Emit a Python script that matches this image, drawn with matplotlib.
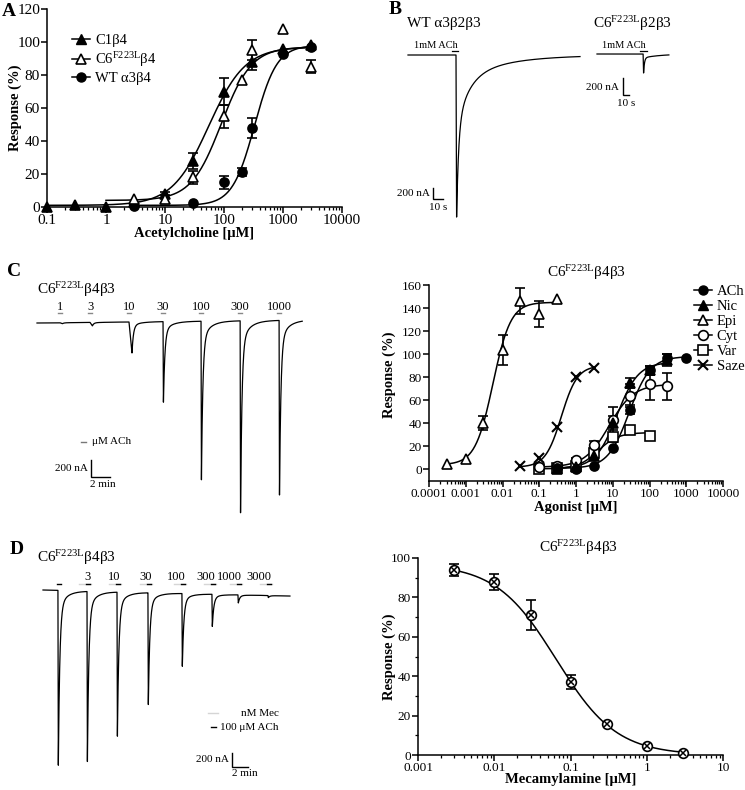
import numpy as np
import matplotlib
matplotlib.use('Agg')
import matplotlib.pyplot as plt
from matplotlib.lines import Line2D
from matplotlib.ticker import LogLocator, NullFormatter, MultipleLocator

# ---------------- data ----------------
# Panel A
concA_c1 = [0.1, 0.3, 1, 3, 10, 30, 100, 300, 1000, 3000]
respA_c1 = [0, 1, 0, 3, 8, 28, 70, 88, 96, 98]
errA_c1 = [0, 0, 0, 0, 1, 5, 8, 5, 0, 0]
concA_c6 = [3, 10, 30, 100, 200, 300, 1000, 3000]
respA_c6 = [5, 5, 18, 55, 77, 95, 108, 85]
errA_c6 = [0, 0, 4, 7, 0, 6, 0, 4]
concA_wt = [3, 30, 100, 200, 300, 1000, 3000]
respA_wt = [0.5, 2.5, 15, 21, 48, 93, 97]
errA_wt = [0, 0, 4, 2.5, 6, 0, 0]
# Hill fit parameters: bottom, top, EC50, nH
fitA_c1 = [1, 97, 55, 1.4]
fitA_c6 = [4, 97, 90, 1.7]
fitA_wt = [1, 98, 330, 2.3]

# Panel C (right)
concC_ach = [0.3, 1, 3, 10, 30, 100, 300, 1000]
respC_ach = [1, 0.5, 3, 19, 52, 86, 97, 97]
errC_ach = [0, 0, 0, 0, 4, 4, 3, 0]
concC_nic = [0.3, 1, 3, 10, 30, 100, 300]
respC_nic = [0.5, 2, 12, 40, 75, 86, 95]
errC_nic = [0, 0, 3, 6, 4, 4, 5]
concC_epi = [0.0003, 0.001, 0.003, 0.01, 0.03, 0.1, 0.3]
respC_epi = [5, 9, 40, 104, 146, 135, 148]
errC_epi = [0, 0, 6, 13, 11, 11, 0]
concC_cyt = [0.1, 0.3, 1, 3, 10, 30, 100, 300]
respC_cyt = [2, 3, 8, 21, 43, 64, 74, 72]
errC_cyt = [0, 0, 2, 4, 11, 10, 14, 12]
concC_var = [0.1, 0.3, 1, 3, 10, 30, 100]
respC_var = [0, 1, 3, 14, 28, 34, 29]
errC_var = [0, 0, 0, 2, 4, 0, 0]
concC_saze = [0.03, 0.1, 0.3, 1, 3]
respC_saze = [3, 10, 37, 80, 88]
fitC_ach = [1, 98, 28, 1.5]
fitC_nic = [1, 93, 13, 1.5]
fitC_epi = [4, 145, 0.0055, 1.8]
fitC_cyt = [2, 74, 8, 1.3]
fitC_var = [0.5, 32, 4, 1.6]
fitC_saze = [2, 90, 0.4, 2.0]

# Panel D (right)
concD = [0.003, 0.01, 0.03, 0.1, 0.3, 1, 3]
respD = [94, 88, 71, 37, 15.5, 4.5, 1]
errD = [3, 4, 7.5, 3.5, 0, 0, 0]
fitD = [97, 0, 0.065, 1.1]

# Traces (onset time s, peak amplitude nA)
B_wt_onsets = [48]
B_wt_amps = [2950]
B_c6_onsets = [77]
B_c6_amps = [224]
C_onsets = [145, 335, 581, 796, 1036, 1283, 1529]
C_amps = [12, 41, 365, 950, 1870, 2260, 2060]
C_rises = [15, 15, 19, 2.5, 2.5, 2.5, 2.5]
C_labels = ['1', '3', '10', '30', '100', '300', '1000']
D_onsets = [112, 330, 555, 787, 1042, 1267, 1462, 1687]
D_amps = [2500, 2430, 2060, 1600, 1040, 460, 115, 30]
D_labels = ['', '3', '10', '30', '100', '300', '1000', '3000']

# ---------------- style ----------------
W, H = 745, 790
plt.rcParams.update({
    'font.family': ['Liberation Serif', 'DejaVu Serif'],
    'mathtext.fontset': 'custom',
    'mathtext.rm': 'Liberation Serif',
    'mathtext.it': 'Liberation Serif:italic',
    'mathtext.bf': 'Liberation Serif:bold',
    'axes.linewidth': 1.1,
})
fig = plt.figure(figsize=(W / 100, H / 100), dpi=100)


def add_ax(l, t, r, b):
    return fig.add_axes([l / W, 1 - b / H, (r - l) / W, (b - t) / H])


def ftext(x, y, s, **kw):
    kw.setdefault('va', 'center')
    fig.text(x / W, 1 - y / H, s, **kw)


def hill(x, p):
    b, t, ec, n = p
    return b + (t - b) / (1 + (ec / x) ** n)


def style_dr(ax, xlim, ylim, xt, xtl, yt, fs):
    ax.set_xscale('log')
    ax.set_xlim(xlim)
    ax.set_ylim(ylim)
    for s in ['top', 'right']:
        ax.spines[s].set_visible(False)
    ax.set_xticks(xt)
    ax.set_xticklabels(xtl, fontsize=fs)
    ax.xaxis.set_minor_locator(LogLocator(base=10, subs=np.arange(2, 10), numticks=100))
    ax.xaxis.set_minor_formatter(NullFormatter())
    ax.set_yticks(yt)
    ax.set_yticklabels([str(v) for v in yt], fontsize=fs)
    ax.tick_params(which='major', direction='out', length=4, width=1.1, pad=1)
    ax.tick_params(which='minor', direction='out', length=2.5, width=0.9)


def series(ax, x, y, err, marker, filled, ms=6.5):
    x = np.array(x, float); y = np.array(y, float)
    if err is not None:
        e = np.array(err, float)
        m = e > 0
        ax.errorbar(x[m], y[m], yerr=e[m], fmt='none', ecolor='k', elinewidth=1.2,
                    capsize=3.5, capthick=1.2, zorder=2, clip_on=False)
    ax.plot(x, y, ls='none', marker=marker, ms=ms, mec='k',
            mfc='k' if filled else 'white', mew=1.2, zorder=4, clip_on=False)


def curve(ax, p, x0, x1):
    xx = np.logspace(np.log10(x0), np.log10(x1), 300)
    ax.plot(xx, hill(xx, p), color='k', lw=1.1, zorder=3)


# ---------------- Panel A ----------------
axA = add_ax(47, 9, 342, 207)
style_dr(axA, (0.1, 10000), (0, 120), [0.1, 1, 10, 100, 1000, 10000],
         ['0.1', '1', '10', '100', '1000', '10000'], list(range(0, 121, 20)), 11)
curve(axA, fitA_c1, 0.1, 3000)
curve(axA, fitA_c6, 1, 3000)
curve(axA, fitA_wt, 3, 3000)
series(axA, concA_wt, respA_wt, errA_wt, 'o', True)
series(axA, concA_c1, respA_c1, errA_c1, '^', True)
series(axA, concA_c6, respA_c6, errA_c6, '^', False, ms=7)
axA.set_xlabel('Acetylcholine [μM]', fontsize=10.5, fontweight='bold')
axA.set_ylabel('Response (%)', fontsize=10.5, fontweight='bold')
axA.xaxis.set_label_coords(0.5, -(233 - 207) / 198)
axA.xaxis.label.set_va('center')
axA.yaxis.set_label_coords((15 - 47) / 295, 0.5)
axA.yaxis.label.set_va('center')
hA = [Line2D([], [], color='k', lw=1.1, marker='^', ms=6.5, mfc='k', mec='k'),
      Line2D([], [], color='k', lw=1.1, marker='^', ms=7, mfc='white', mec='k', mew=1.2),
      Line2D([], [], color='k', lw=1.1, marker='o', ms=6.5, mfc='k', mec='k')]
axA.legend(hA, ['C1β4', 'C6$^{\\rm F223L}$β4', 'WT α3β4'], loc='upper left',
           bbox_to_anchor=((72 - 47) / 295, (207 - 34) / 198), frameon=False,
           fontsize=10.5, handlelength=1.2, handletextpad=0.4, labelspacing=0.2,
           borderaxespad=0, borderpad=0)


# ---------------- Traces helper ----------------
def trace_axes(l, t, r, b, ox, spp, by, npp):
    ax = add_ax(l, t, r, b)
    tx = lambda px: (px - ox) * spp
    ty = lambda py: (by - py) * npp
    ax.set_xlim(tx(l), tx(r))
    ax.set_ylim(ty(b), ty(t))
    ax.axis('off')
    return ax, tx, ty


def make_trace(t, onsets, amps, rises, taus, fracs, drift=0.0):
    y = drift * (t - t[0]) / (t[-1] - t[0])
    for t0, A, r in zip(onsets, amps, rises):
        dt = t - t0
        m1 = (dt >= 0) & (dt < r)
        y[m1] -= A * dt[m1] / r
        m2 = dt >= r
        d = dt[m2] - r
        y[m2] -= A * sum(f * np.exp(-d / tau) for f, tau in zip(fracs, taus))
    return y


def scalebar(ax, tx, ty, xpx, ybot_px, nA, sec):
    x0, y0 = tx(xpx), ty(ybot_px)
    ax.plot([x0, x0, x0 + sec], [y0 + nA, y0, y0], color='k', lw=1.0,
            solid_joinstyle='miter')


# ---------------- Panel B ----------------
axBw, txw, tyw = trace_axes(400, 30, 592, 228, 408, 1.0, 55, 18.2)
t = np.linspace(0, 172, 20000)
axBw.plot(t, make_trace(t, B_wt_onsets, B_wt_amps, [0.6], [2, 12, 45], [0.55, 0.3, 0.15]),
          color='k', lw=0.9)
axBw.plot([B_wt_onsets[0] - 4, B_wt_onsets[0] + 2], [tyw(51)] * 2, color='k', lw=0.9)
scalebar(axBw, txw, tyw, 433, 199, 200, 10)
ftext(407, 24, 'WT α3β2β3', fontsize=11)
ftext(436, 45, '1mM ACh', fontsize=7.5, ha='center')
ftext(430, 193, '200 nA', fontsize=8, ha='right')
ftext(438, 207, '10 s', fontsize=8, ha='center')

axBc, txc, tyc = trace_axes(592, 30, 700, 110, 597, 1.67, 54, 11.8)
t = np.linspace(0, 120, 20000)
axBc.plot(t, make_trace(t, B_c6_onsets, B_c6_amps, [0.8], [1.5, 30], [0.8, 0.2]),
          color='k', lw=0.9)
axBc.plot([txc(640), txc(647)], [tyc(51)] * 2, color='k', lw=0.9)
scalebar(axBc, txc, tyc, 623, 95, 200, 10)
ftext(593, 24, 'C6$^{\\rm F223L}$β2β3', fontsize=11)
ftext(624, 45, '1mM ACh', fontsize=7.5, ha='center')
ftext(619, 87, '200 nA', fontsize=8, ha='right')
ftext(626, 104, '10 s', fontsize=8, ha='center')

# ---------------- Panel C left ----------------
axCl, txC, tyC = trace_axes(30, 295, 330, 520, 37, 120 / 19, 323, 200 / 17)
t = np.linspace(0, 1675, 40000)
axCl.plot(t, make_trace(t, C_onsets, C_amps, C_rises, [9, 50], [0.88, 0.12], drift=35),
          color='k', lw=0.9)
for t0, lab in zip(C_onsets, C_labels):
    axCl.plot([t0 - 14, t0 + 14], [tyC(313)] * 2, color='#888888', lw=1.0)
    axCl.text(t0, tyC(307), lab, fontsize=9, ha='center', va='center')
scalebar(axCl, txC, tyC, 91, 477, 200, 120)
ftext(37, 290, 'C6$^{\\rm F223L}$β4β3', fontsize=11)
ftext(88, 468, '200 nA', fontsize=8, ha='right')
ftext(103, 484, '2 min', fontsize=8, ha='center')
ftext(92, 442, 'μM ACh', fontsize=8, ha='left')

# ---------------- Panel C right ----------------
axC = add_ax(429, 285, 723, 481)
style_dr(axC, (0.0001, 10000), (-10, 160),
         [0.0001, 0.001, 0.01, 0.1, 1, 10, 100, 1000, 10000],
         ['0.0001', '0.001', '0.01', '0.1', '1', '10', '100', '1000', '10000'],
         list(range(0, 161, 20)), 9.5)
curve(axC, fitC_epi, 0.0003, 0.3)
curve(axC, fitC_saze, 0.03, 3)
curve(axC, fitC_ach, 0.3, 1000)
curve(axC, fitC_nic, 0.3, 300)
curve(axC, fitC_cyt, 0.1, 300)
curve(axC, fitC_var, 0.1, 100)
series(axC, concC_var, respC_var, errC_var, 's', False, ms=6.5)
series(axC, concC_cyt, respC_cyt, errC_cyt, 'o', False, ms=7)
series(axC, concC_ach, respC_ach, errC_ach, 'o', True)
series(axC, concC_nic, respC_nic, errC_nic, '^', True)
series(axC, concC_epi, respC_epi, errC_epi, '^', False, ms=7.5)
axC.plot(concC_saze, respC_saze, ls='none', marker='x', ms=7, mec='k', mew=1.5, zorder=4)
axC.set_xlabel('Agonist [μM]', fontsize=10.5, fontweight='bold')
axC.set_ylabel('Response (%)', fontsize=10.5, fontweight='bold')
axC.xaxis.set_label_coords(0.5, -(508 - 481) / 196)
axC.xaxis.label.set_va('center')
axC.yaxis.set_label_coords((389 - 429) / 294, (481 - 375) / 196)
axC.yaxis.label.set_va('center')
ftext(586, 273, 'C6$^{\\rm F223L}$β4β3', fontsize=11, ha='center')
hC = [Line2D([], [], color='k', lw=1.1, marker='o', ms=6.5, mfc='k', mec='k'),
      Line2D([], [], color='k', lw=1.1, marker='^', ms=6.5, mfc='k', mec='k'),
      Line2D([], [], color='k', lw=1.1, marker='^', ms=7.5, mfc='white', mec='k', mew=1.2),
      Line2D([], [], color='k', lw=1.1, marker='o', ms=7, mfc='white', mec='k', mew=1.2),
      Line2D([], [], color='k', lw=1.1, marker='s', ms=6.5, mfc='white', mec='k', mew=1.2),
      Line2D([], [], color='k', lw=1.1, marker='x', ms=7, mec='k', mew=1.5)]
axC.legend(hC, ['ACh', 'Nic', 'Epi', 'Cyt', 'Var', 'Saze'], loc='upper left',
           bbox_to_anchor=((694 - 429) / 294, (481 - 285) / 196), frameon=False,
           fontsize=10.5, handlelength=1.2, handletextpad=0.35, labelspacing=0.12,
           borderaxespad=0, borderpad=0)

# ---------------- Panel D left ----------------
axDl, txD, tyD = trace_axes(30, 570, 330, 775, 43, 120 / 16, 590, 200 / 14)
t = np.linspace(0, 1852, 40000)
axDl.plot(t, make_trace(t, D_onsets, D_amps, [3] * 8, [11, 60], [0.9, 0.1], drift=-86),
          color='k', lw=0.9)
for i, (t0, lab) in enumerate(zip(D_onsets, D_labels)):
    if lab:
        axDl.plot([t0 - 8 * 7.5, t0 + 4 * 7.5], [tyD(584)] * 2, color='#d5d5d5', lw=1.0)
        axDl.text(t0 + 3.5 * 7.5, tyD(577), lab, fontsize=9, ha='right', va='center')
    axDl.plot([t0 - 8, t0 + 22], [tyD(584)] * 2, color='k', lw=1.0)
scalebar(axDl, txD, tyD, 232, 767, 200, 120)
ftext(37, 558, 'C6$^{\\rm F223L}$β4β3', fontsize=11)
ftext(229, 759, '200 nA', fontsize=8, ha='right')
ftext(245, 774, '2 min', fontsize=8, ha='center')
ftext(279, 713, 'nM Mec', fontsize=8, ha='right')
ftext(279, 727, '100 μM ACh', fontsize=8, ha='right')

# ---------------- Panel D right ----------------
axD = add_ax(418, 558, 723, 755)
style_dr(axD, (0.001, 10), (0, 100), [0.001, 0.01, 0.1, 1, 10],
         ['0.001', '0.01', '0.1', '1', '10'], list(range(0, 101, 20)), 9.5)
axD.yaxis.set_minor_locator(MultipleLocator(10))
curve(axD, fitD, 0.003, 3)
cD = np.array(concD); rD = np.array(respD); eD = np.array(errD)
mD = eD > 0
axD.errorbar(cD[mD], rD[mD], yerr=eD[mD], fmt='none', ecolor='k', elinewidth=1.2,
             capsize=3.5, capthick=1.2, zorder=2)
axD.plot(cD, rD, ls='none', marker='o', ms=7, mfc='white', mec='k', mew=1.2, zorder=4,
         clip_on=False)
axD.plot(cD, rD, ls='none', marker='x', ms=4.5, mec='k', mew=1.1, zorder=5, clip_on=False)
axD.set_xlabel('Mecamylamine [μM]', fontsize=10.5, fontweight='bold')
axD.set_ylabel('Response (%)', fontsize=10.5, fontweight='bold')
axD.xaxis.set_label_coords(0.5, -(780 - 755) / 197)
axD.xaxis.label.set_va('center')
axD.yaxis.set_label_coords((389 - 418) / 305, 0.5)
axD.yaxis.label.set_va('center')
ftext(578, 548, 'C6$^{\\rm F223L}$β4β3', fontsize=11, ha='center')

# ---------------- overlay annotations ----------------
ov = fig.add_axes([0, 0, 1, 1])
ov.set_xlim(0, W); ov.set_ylim(H, 0); ov.axis('off')
ov.plot([81, 86], [442, 442], color='#777777', lw=1.0)
ov.plot([208, 218], [713, 713], color='#d5d5d5', lw=1.0)
ov.plot([211, 216], [727, 727], color='k', lw=1.0)

# panel letters
for x, y, s in [(9, 11, 'A'), (395, 9, 'B'), (14, 271, 'C'), (17, 549, 'D')]:
    ftext(x, y, s, fontsize=14, fontweight='bold', ha='center')

fig.savefig('out.png', dpi=100)
